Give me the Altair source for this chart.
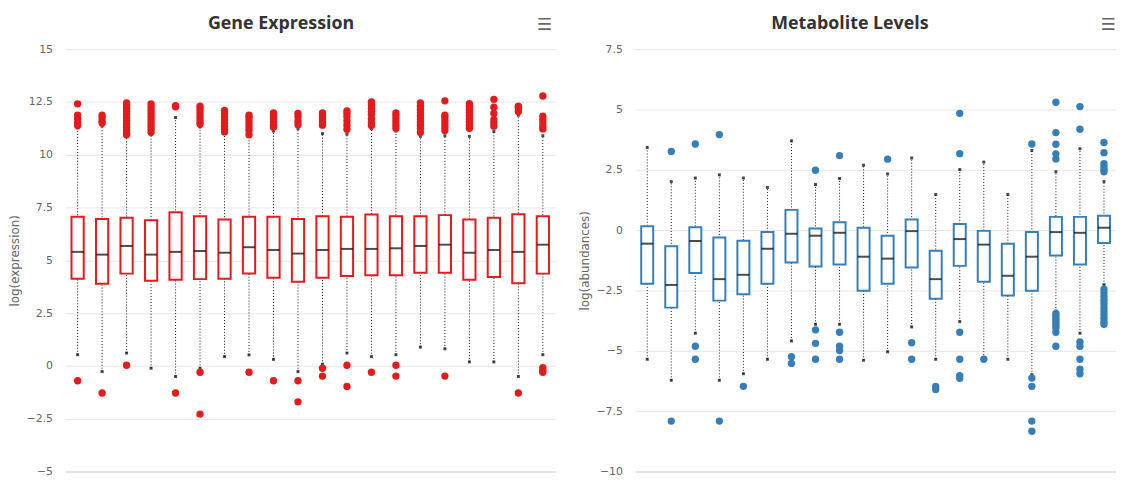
import altair as alt
import pandas as pd

# ---------------- Gene Expression (left) ----------------
gene_cats = [f"G{i}" for i in range(1, 21)]
gene_q1 = [4.13, 3.89, 4.37, 4.03, 4.08, 4.11, 4.13, 4.38, 4.18, 3.99,
           4.18, 4.26, 4.29, 4.29, 4.41, 4.41, 4.08, 4.21, 3.91, 4.37]
gene_median = [5.40, 5.27, 5.68, 5.27, 5.40, 5.44, 5.36, 5.62, 5.49, 5.32,
               5.49, 5.54, 5.54, 5.57, 5.68, 5.74, 5.36, 5.49, 5.40, 5.74]
gene_q3 = [7.06, 6.96, 7.01, 6.90, 7.28, 7.09, 6.93, 7.06, 7.06, 6.96,
           7.09, 7.06, 7.17, 7.09, 7.09, 7.14, 6.93, 7.01, 7.18, 7.09]
gene_low = [0.53, -0.27, 0.61, -0.11, -0.50, -0.11, 0.44, 0.52, 0.31, -0.27,
            0.08, 0.61, 0.44, 0.53, 0.89, 0.81, 0.19, 0.19, -0.50, 0.53]
gene_high = [11.27, 11.36, 10.85, 10.95, 11.76, 11.31, 11.00, 10.87, 11.12, 11.23,
             11.00, 10.97, 11.23, 11.12, 10.87, 10.90, 10.87, 11.10, 11.87, 10.90]
gene_outliers = [
    [12.41, 11.87, 11.70, 11.50, 11.38, -0.70],
    [11.87, 11.75, 11.60, 11.50, -1.28],
    [12.45, 12.35, 12.20, 12.05, 11.90, 11.75, 11.60, 11.45, 11.30, 11.15, 11.00, 10.95, 0.03],
    [12.40, 12.25, 12.10, 11.95, 11.80, 11.65, 11.50, 11.35, 11.20, 11.06],
    [12.27, 12.32, -1.28],
    [12.30, 12.15, 12.00, 11.85, 11.70, 11.55, 11.45, -0.30, -2.28],
    [12.10, 11.95, 11.80, 11.65, 11.50, 11.35, 11.20, 11.08],
    [11.87, 11.75, 11.60, 11.45, 11.30, 11.15, 10.95, -0.30],
    [11.98, 11.85, 11.70, 11.55, 11.40, 11.30, -0.70],
    [11.95, 11.80, 11.60, 11.42, -0.70, -1.70],
    [11.98, 11.85, 11.70, 11.55, 11.40, -0.11, -0.48],
    [12.07, 11.95, 11.80, 11.60, 11.40, 11.20, 0.03, -0.97],
    [12.50, 12.35, 12.20, 12.05, 11.90, 11.70, 11.50, 11.38, -0.30],
    [11.98, 11.85, 11.70, 11.55, 11.40, 11.25, 0.03, -0.48],
    [12.45, 12.30, 12.15, 12.00, 11.85, 11.70, 11.55, 11.40, 11.25, 11.05],
    [12.55, 11.87, 11.75, 11.60, 11.45, 11.30, 11.15, -0.48],
    [12.42, 12.30, 12.15, 12.00, 11.85, 11.70, 11.55, 11.40, 11.25],
    [12.62, 12.25, 11.95, 11.65, 11.50, 11.35],
    [12.30, 12.20, 12.05, -1.28],
    [12.78, 11.82, 11.65, 11.50, 11.35, 11.22, -0.08, -0.20, -0.30],
]

# ---------------- Metabolite Levels (right) ----------------
met_cats = [f"M{i}" for i in range(1, 21)]
met_q1 = [-2.22, -3.21, -1.78, -2.92, -2.66, -2.22, -1.34, -1.51, -1.42, -2.51,
          -2.22, -1.55, -2.84, -1.48, -2.14, -2.71, -2.51, -1.05, -1.42, -0.53]
met_median = [-0.56, -2.27, -0.45, -2.03, -1.85, -0.77, -0.15, -0.23, -0.11, -1.10,
              -1.18, -0.04, -2.03, -0.37, -0.60, -1.89, -1.10, -0.08, -0.11, 0.10]
met_q3 = [0.16, -0.67, 0.12, -0.30, -0.44, -0.08, 0.84, 0.07, 0.33, 0.10,
          -0.23, 0.44, -0.85, 0.25, -0.03, -0.56, -0.08, 0.55, 0.55, 0.60]
met_low = [-5.35, -6.22, -4.27, -6.22, -5.95, -5.35, -4.59, -3.90, -3.90, -5.39,
           -5.04, -4.01, -5.35, -3.79, -5.30, -5.35, -5.99, -3.35, -4.27, -2.26]
met_high = [3.43, 2.01, 2.16, 2.29, 2.16, 1.77, 3.70, 1.89, 2.14, 2.69,
            2.33, 2.99, 1.48, 2.51, 2.82, 1.48, 3.30, 2.42, 3.37, 2.01]
met_outliers = [
    [],
    [3.26, -7.91],
    [3.57, -4.81, -5.35],
    [3.96, -7.91],
    [-6.47],
    [],
    [-5.24, -5.52],
    [2.48, -4.13, -4.69, -5.35],
    [3.09, -4.23, -4.81, -4.99, -5.35],
    [],
    [2.94],
    [-4.66, -5.35],
    [-6.47, -6.60],
    [4.84, 3.17, -4.23, -5.35, -6.03, -6.14],
    [-5.35],
    [],
    [3.57, -6.13, -6.47, -7.91, -8.33],
    [5.30, 4.04, 3.56, 3.16, 2.95, -3.45, -3.55, -3.65, -3.75, -3.85, -3.95, -4.05, -4.23, -4.81],
    [5.12, 4.18, -4.63, -4.81, -5.35, -5.76, -5.95],
    [3.63, 3.21, 2.75, 2.62, 2.50, 2.42, -2.45, -2.60, -2.75, -2.90, -3.05, -3.20,
     -3.35, -3.50, -3.65, -3.80, -3.90],
]

RED = "#e41a1c"
BLUE = "#377eb8"
PLOT_H = 427


def boxpanel(cats, low, q1, med, q3, high, outliers, color, title, ytitle,
             ydomain, yticks, width, title_x, menu_x):
    box_df = pd.DataFrame(dict(cat=cats, low=low, q1=q1, median=med, q3=q3, high=high))
    out_df = pd.DataFrame([(c, v) for c, vs in zip(cats, outliers) for v in vs],
                          columns=["cat", "value"])
    x = alt.X(
        "cat:N", sort=cats,
        scale=alt.Scale(paddingInner=0, paddingOuter=0),
        axis=alt.Axis(labels=False, title=None, grid=False, domainColor="#ccd6eb",
                      ticks=False),
    )
    yscale = alt.Scale(domain=ydomain, nice=False, zero=False)
    yaxis = alt.Axis(values=yticks, format=".3~g", title=ytitle, domain=False, ticks=False,
                     gridColor="#e6e6e6", labelColor="#666666", labelFontSize=11,
                     labelFont="DejaVu Sans", labelPadding=13, titleColor="#666666",
                     titleFontSize=12, titleFontWeight="normal", titleFont="DejaVu Sans",
                     titlePadding=5)
    base = alt.Chart(box_df)
    whisker = base.mark_rule(color="#111111", strokeWidth=1, strokeDash=[1, 2]).encode(
        x=x, y=alt.Y("low:Q", scale=yscale, axis=yaxis), y2="high:Q")
    cap_lo = base.mark_tick(color="black", size=3, thickness=3).encode(x=x, y="low:Q")
    cap_hi = base.mark_tick(color="black", size=3, thickness=3).encode(x=x, y="high:Q")
    box = base.mark_bar(fill="white", stroke=color, strokeWidth=2,
                        width=alt.RelativeBandSize(0.5)).encode(x=x, y="q1:Q", y2="q3:Q")
    mline = base.mark_tick(color="black", size=12, thickness=2).encode(x=x, y="median:Q")
    outl = alt.Chart(out_df).mark_circle(size=55, color=color, opacity=1).encode(
        x=x, y="value:Q")
    head = alt.Chart(pd.DataFrame({"t": [title]})).mark_text(
        fontSize=18, fontWeight="bold", color="#333333", font="Open Sans",
        align="center", baseline="middle", clip=False).encode(
        text="t:N", x=alt.value(title_x), y=alt.value(-25.5))
    menu = alt.Chart(pd.DataFrame({"t": ["\u2630"]})).mark_text(
        fontSize=17, color="#666666", font="DejaVu Sans", align="center",
        baseline="middle", clip=False).encode(
        text="t:N", x=alt.value(menu_x), y=alt.value(-24))
    return alt.layer(whisker, cap_lo, cap_hi, box, mline, outl, head, menu).properties(
        width=width, height=PLOT_H)


left = boxpanel(gene_cats, gene_low, gene_q1, gene_median, gene_q3, gene_high,
                gene_outliers, RED, "Gene Expression", "log(expression)",
                [-5, 15], [-5, -2.5, 0, 2.5, 5, 7.5, 10, 12.5, 15], 495, 218, 484)
right = boxpanel(met_cats, met_low, met_q1, met_median, met_q3, met_high,
                 met_outliers, BLUE, "Metabolite Levels", "log(abundances)",
                 [-10, 7.5], [-10, -7.5, -5, -2.5, 0, 2.5, 5, 7.5], 486, 217, 478)

chart = alt.hconcat(left, right, spacing=23).properties(
    padding={"top": 4, "left": 0, "right": 0, "bottom": 0}
).configure_view(stroke=None)

chart.save("out.html", embed_options={"renderer": "svg", "actions": False})
